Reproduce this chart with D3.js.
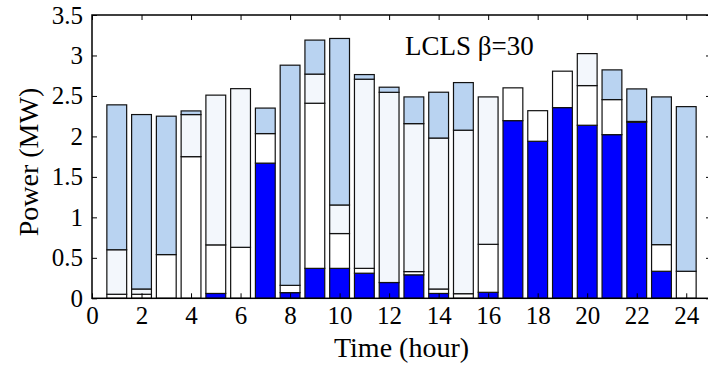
<!DOCTYPE html>
<html><head><meta charset="utf-8">
<script src="https://cdn.jsdelivr.net/npm/d3@7/dist/d3.min.js"></script>
<style>body{margin:0;background:#fff}svg{display:block}</style>
</head><body>
<svg id="c" width="708" height="370" font-family="Liberation Serif, serif"></svg>
<script>
const hours = d3.range(1, 25);
const xTicks = [0,2,4,6,8,10,12,14,16,18,20,22,24];
const yTicks = [0,0.5,1,1.5,2,2.5,3,3.5];
const yTickLabels = ["0","0.5","1","1.5","2","2.5","3","3.5"];
// stacked segment heights (MW), bottom to top
const layerBlue      = [0,0,0,0,0.06,0,1.67,0.07,0.37,0.37,0.31,0.195,0.29,0.06,0,0.074,2.195,1.94,2.356,2.138,2.022,2.175,0.334,0];
const layerWhite     = [0.05,0.05,0.54,1.75,0.60,0.63,0.365,0.09,2.04,0.43,0.06,0,0.04,0.055,0.057,0.593,0.405,0.378,0.45,0.49,0.433,0.01,0.329,0.334];
const layerPale      = [0.55,0.065,0,0.52,1.85,1.96,0,0,0.36,0.353,2.337,2.35,1.828,1.865,2.02,1.821,0,0,0,0.395,0,0,0,0];
const layerLightBlue = [1.79,2.155,1.71,0.045,0,0,0.315,2.72,0.42,2.057,0.057,0.063,0.33,0.566,0.588,0,0,0,0,0,0.367,0.402,1.825,2.034];
const layerColors = ["#0000ff","#ffffff","#f3f7fc","#b9d3f1"];
const annotation = "LCLS β=30";

const FONT = "Liberation Serif, serif";
const svg = d3.select("#c");
const L = 92, R = 711, T = 15, B = 298.3;
const x = d3.scaleLinear().domain([0,25]).range([L,R]);
const y = d3.scaleLinear().domain([0,3.5]).range([B,T]);

const keys = ["blue","white","pale","light"];
const rows = hours.map((h,i)=>({hour:h, blue:layerBlue[i], white:layerWhite[i], pale:layerPale[i], light:layerLightBlue[i]}));
const stacked = d3.stack().keys(keys)(rows);
const bw = (x(0.8)-x(0));

stacked.forEach((s,k)=>{
  svg.append("g").selectAll("rect").data(s.filter(d=>d[1]-d[0]>0)).join("rect")
    .attr("x", d=>x(d.data.hour)-bw/2)
    .attr("width", bw)
    .attr("y", d=>y(d[1]))
    .attr("height", d=>y(d[0])-y(d[1]))
    .attr("fill", layerColors[k])
    .attr("stroke","#111").attr("stroke-width",1.2);
});

const g = svg.append("g");
const xAxisB = d3.axisBottom(x).tickValues(xTicks).tickSize(-5).tickPadding(8).tickFormat(d3.format("d"));
const xAxisT = d3.axisTop(x).tickValues(xTicks).tickSize(-5).tickFormat("");
const yAxisL = d3.axisLeft(y).tickValues(yTicks).tickSize(-5).tickPadding(9).tickFormat((d,i)=>yTickLabels[i]);
const yAxisR = d3.axisRight(y).tickValues(yTicks).tickSize(-5).tickFormat("");
function styleAxis(sel){
  sel.attr("font-family", FONT).attr("font-size", 25);
  sel.select(".domain").remove();
  sel.selectAll("line").attr("stroke","#000").attr("stroke-width",1);
  sel.selectAll("text").attr("font-family", FONT).attr("font-size", 25).attr("fill","#000");
}
g.append("g").attr("transform",`translate(0,${B})`).call(xAxisB).call(styleAxis);
g.append("g").attr("transform",`translate(0,${T})`).call(xAxisT).call(styleAxis);
g.append("g").attr("transform",`translate(${L},0)`).call(yAxisL).call(styleAxis);
g.append("g").attr("transform",`translate(${R},0)`).call(yAxisR).call(styleAxis);
g.append("rect").attr("x",L).attr("y",T).attr("width",R-L).attr("height",B-T).attr("fill","none").attr("stroke","#000").attr("stroke-width",1.5);

svg.append("text").attr("x",(L+R)/2).attr("y",357).attr("text-anchor","middle").attr("font-family",FONT).attr("font-size",28).text("Time (hour)");
svg.append("text").attr("transform",`translate(38,162) rotate(-90)`).attr("text-anchor","middle").attr("font-family",FONT).attr("font-size",28).text("Power (MW)");
svg.append("text").attr("x",405).attr("y",55).attr("font-family",FONT).attr("font-size",27).text(annotation);
</script>
</body></html>
